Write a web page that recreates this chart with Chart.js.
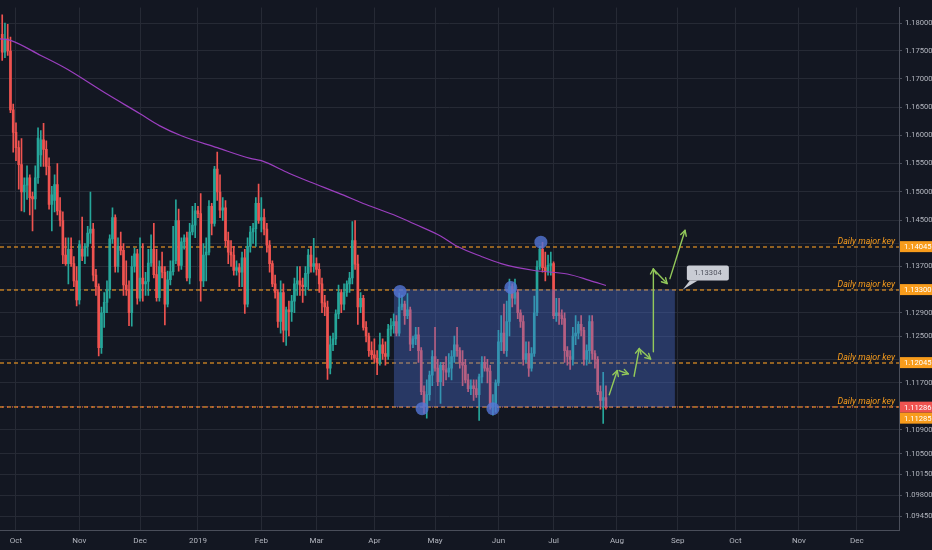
<!DOCTYPE html>
<html><head><meta charset="utf-8">
<script src="https://cdn.jsdelivr.net/npm/chart.js@4.4.1/dist/chart.umd.min.js"></script>
<style>html,body{margin:0;padding:0;background:#131722;overflow:hidden}canvas{display:block}</style>
</head><body>
<canvas id="c" width="932" height="550"></canvas>
<script>
// EURUSD daily, first bar = 2018-09-24 (bar index -5); bar index 0 = 2018-10-01
const firstBarIndex = -5;
const opens = [
1.1780,1.1748,1.1772,1.1750,1.1645,
1.1605,1.1578,1.1548,1.1500,1.1512,1.1525,1.1492,1.1488,1.1525,1.1565,1.1592,1.1575,1.1545,1.1478,1.1485,1.1513,1.1467,1.1450,1.1390,1.1375,1.1400,1.1375,1.1345,
1.1312,1.1400,1.1388,1.1405,1.1428,1.1435,1.1355,1.1335,1.1230,1.1290,1.1308,1.1330,1.1418,1.1455,1.1370,1.1405,1.1398,1.1338,1.1330,1.1290,1.1370,1.1392,
1.1315,1.1350,1.1340,1.1344,1.1376,1.1400,1.1356,1.1316,1.1370,1.1360,1.1305,1.1347,1.1361,1.1380,1.1450,1.1372,1.1413,1.1420,1.1350,1.1430,1.1442,
1.1467,1.1462,1.1345,1.1390,1.1395,1.1475,1.1445,1.1540,1.1500,1.1468,1.1472,1.1415,1.1395,1.1390,1.1363,1.1368,1.1360,1.1385,1.1305,1.1405,1.1430,1.1436,1.1480,
1.1450,1.1455,1.1435,1.1407,1.1375,1.1340,1.1325,1.1275,1.1325,1.1260,1.1295,1.1292,1.1310,1.1340,1.1345,1.1338,1.1335,1.1358,1.1390,1.1370,
1.1375,1.1365,1.1340,1.1307,1.1300,1.1195,1.1235,1.1245,1.1288,1.1325,1.1305,1.1325,1.1340,1.1350,1.1415,1.1374,1.1300,1.1315,1.1265,1.1250,1.1225,
1.1218,1.1212,1.1205,1.1235,1.1220,1.1215,1.1262,1.1268,1.1275,1.1255,1.1300,1.1305,1.1285,1.1295,1.1236,1.1245,1.1252,1.1225,1.1155,1.1130,1.1150,1.1183,
1.1215,1.1195,1.1172,1.1200,1.1192,1.1188,1.1195,1.1215,1.1235,1.1225,1.1205,1.1200,1.1175,1.1160,1.1165,1.1160,1.1150,1.1180,1.1205,1.1195,1.1190,1.1130,1.1135,
1.1170,1.1240,1.1255,1.1225,1.1275,1.1335,1.1315,1.1325,1.1290,1.1275,1.1210,1.1220,1.1195,1.1220,1.1290,1.1370,1.1400,1.1368,1.1362,1.1372,
1.1375,1.1285,1.1290,1.1285,1.1280,1.1225,1.1215,1.1210,1.1250,1.1255,1.1270,1.1260,1.1210,1.1225,1.1275,1.1220,1.1210,1.1155,1.1140,1.1145
];
const highs = [
1.1815,1.1800,1.1798,1.1775,1.1655,
1.1622,1.1590,1.1594,1.1525,1.1546,1.1530,1.1500,1.1546,1.1613,1.1608,1.1621,1.1590,1.1560,1.1510,1.1530,1.1550,1.1490,1.1465,1.1420,1.1420,1.1420,1.1387,1.1370,
1.1415,1.1456,1.1410,1.1440,1.1500,1.1445,1.1365,1.1340,1.1300,1.1325,1.1345,1.1425,1.1472,1.1460,1.1420,1.1430,1.1410,1.1380,1.1345,1.1388,1.1402,1.1400,
1.1420,1.1410,1.1360,1.1400,1.1425,1.1445,1.1400,1.1380,1.1395,1.1370,1.1362,1.1380,1.1440,1.1486,1.1470,1.1420,1.1425,1.1430,1.1445,1.1475,1.1480,
1.1475,1.1497,1.1410,1.1420,1.1485,1.1480,1.1545,1.1570,1.1530,1.1490,1.1485,1.1430,1.1415,1.1405,1.1380,1.1375,1.1395,1.1400,1.1420,1.1440,1.1445,1.1490,1.1514,
1.1490,1.1470,1.1445,1.1415,1.1380,1.1355,1.1330,1.1345,1.1340,1.1300,1.1310,1.1320,1.1350,1.1370,1.1370,1.1350,1.1370,1.1400,1.1405,1.1419,
1.1385,1.1375,1.1350,1.1320,1.1310,1.1250,1.1255,1.1295,1.1338,1.1330,1.1340,1.1345,1.1360,1.1448,1.1450,1.1390,1.1325,1.1320,1.1275,1.1255,1.1240,
1.1245,1.1225,1.1255,1.1245,1.1240,1.1270,1.1280,1.1288,1.1285,1.1324,1.1320,1.1310,1.1323,1.1300,1.1250,1.1265,1.1265,1.1230,1.1165,1.1175,1.1190,1.1225,
1.1265,1.1210,1.1205,1.1205,1.1215,1.1220,1.1225,1.1250,1.1265,1.1230,1.1225,1.1210,1.1185,1.1175,1.1175,1.1175,1.1185,1.1215,1.1215,1.1210,1.1200,1.1150,1.1175,
1.1260,1.1285,1.1305,1.1310,1.1348,1.1340,1.1348,1.1330,1.1295,1.1285,1.1240,1.1240,1.1230,1.1319,1.1380,1.1405,1.1412,1.1395,1.1390,1.1395,
1.1378,1.1315,1.1315,1.1295,1.1290,1.1232,1.1225,1.1265,1.1285,1.1275,1.1285,1.1265,1.1235,1.1285,1.1285,1.1225,1.1215,1.1165,1.1188,1.1165
];
const lows = [
1.1733,1.1738,1.1742,1.1640,1.1570,
1.1555,1.1505,1.1467,1.1465,1.1487,1.1460,1.1432,1.1470,1.1515,1.1545,1.1545,1.1530,1.1470,1.1432,1.1465,1.1460,1.1440,1.1375,1.1372,1.1340,1.1370,1.1335,1.1302,
1.1305,1.1380,1.1375,1.1388,1.1410,1.1345,1.1320,1.1216,1.1220,1.1265,1.1290,1.1315,1.1410,1.1360,1.1360,1.1390,1.1320,1.1320,1.1268,1.1267,1.1360,1.1305,
1.1310,1.1310,1.1320,1.1320,1.1370,1.1350,1.1310,1.1310,1.1350,1.1269,1.1300,1.1338,1.1355,1.1375,1.1362,1.1365,1.1400,1.1345,1.1340,1.1425,1.1420,
1.1455,1.1310,1.1335,1.1345,1.1390,1.1425,1.1440,1.1485,1.1455,1.1450,1.1405,1.1375,1.1370,1.1355,1.1355,1.1335,1.1335,1.1289,1.1300,1.1395,1.1410,1.1405,1.1445,
1.1430,1.1425,1.1395,1.1360,1.1335,1.1315,1.1265,1.1255,1.1240,1.1234,1.1250,1.1275,1.1290,1.1320,1.1320,1.1308,1.1320,1.1330,1.1360,1.1360,
1.1355,1.1325,1.1290,1.1285,1.1176,1.1185,1.1225,1.1235,1.1280,1.1290,1.1295,1.1318,1.1325,1.1340,1.1365,1.1270,1.1290,1.1260,1.1240,1.1215,1.1210,
1.1205,1.1184,1.1200,1.1210,1.1200,1.1210,1.1250,1.1255,1.1250,1.1250,1.1295,1.1270,1.1280,1.1225,1.1230,1.1235,1.1205,1.1150,1.1118,1.1110,1.1140,1.1165,
1.1190,1.1165,1.1135,1.1165,1.1175,1.1180,1.1175,1.1205,1.1215,1.1195,1.1165,1.1170,1.1155,1.1150,1.1140,1.1145,1.1106,1.1170,1.1190,1.1170,1.1125,1.1115,1.1120,
1.1165,1.1225,1.1220,1.1215,1.1250,1.1300,1.1305,1.1280,1.1265,1.1200,1.1205,1.1181,1.1190,1.1215,1.1285,1.1365,1.1360,1.1345,1.1355,1.1355,
1.1280,1.1275,1.1270,1.1270,1.1205,1.1200,1.1193,1.1200,1.1235,1.1245,1.1250,1.1200,1.1200,1.1205,1.1210,1.1195,1.1150,1.1125,1.1101,1.1125
];
const closes = [
1.1748,1.1772,1.1750,1.1645,1.1605,
1.1578,1.1548,1.1500,1.1512,1.1525,1.1490,1.1488,1.1525,1.1595,1.1592,1.1575,1.1545,1.1478,1.1495,1.1513,1.1467,1.1450,1.1390,1.1375,1.1400,1.1375,1.1345,1.1312,
1.1408,1.1388,1.1405,1.1428,1.1435,1.1355,1.1335,1.1230,1.1290,1.1308,1.1330,1.1418,1.1455,1.1370,1.1405,1.1398,1.1338,1.1330,1.1290,1.1370,1.1392,1.1315,
1.1350,1.1340,1.1344,1.1376,1.1400,1.1356,1.1316,1.1370,1.1360,1.1305,1.1347,1.1361,1.1380,1.1450,1.1372,1.1413,1.1420,1.1350,1.1430,1.1442,1.1467,
1.1462,1.1345,1.1390,1.1395,1.1475,1.1445,1.1540,1.1500,1.1468,1.1472,1.1415,1.1395,1.1390,1.1363,1.1368,1.1360,1.1385,1.1305,1.1405,1.1430,1.1436,1.1480,1.1450,
1.1455,1.1435,1.1407,1.1375,1.1340,1.1325,1.1275,1.1325,1.1260,1.1295,1.1292,1.1310,1.1340,1.1345,1.1338,1.1335,1.1358,1.1390,1.1370,1.1375,
1.1365,1.1340,1.1307,1.1300,1.1195,1.1235,1.1245,1.1288,1.1325,1.1305,1.1325,1.1340,1.1350,1.1415,1.1374,1.1300,1.1315,1.1265,1.1250,1.1225,1.1218,
1.1212,1.1205,1.1235,1.1220,1.1215,1.1262,1.1268,1.1275,1.1255,1.1300,1.1305,1.1285,1.1295,1.1236,1.1245,1.1252,1.1225,1.1155,1.1130,1.1150,1.1183,1.1215,
1.1195,1.1172,1.1200,1.1192,1.1188,1.1195,1.1215,1.1235,1.1225,1.1205,1.1200,1.1175,1.1160,1.1165,1.1160,1.1150,1.1180,1.1205,1.1195,1.1190,1.1130,1.1135,1.1170,
1.1240,1.1255,1.1225,1.1275,1.1335,1.1315,1.1325,1.1290,1.1275,1.1210,1.1220,1.1195,1.1220,1.1290,1.1370,1.1400,1.1368,1.1362,1.1372,1.1375,
1.1285,1.1290,1.1285,1.1280,1.1225,1.1215,1.1210,1.1250,1.1255,1.1270,1.1260,1.1210,1.1225,1.1275,1.1220,1.1210,1.1155,1.1140,1.1145,1.11286
];
// moving average (purple line) read at bar indices
const maIdx = [-6,-2,9,18,33,45,52,60,73,85,89,99,107,117,127,137,145,154,160,169,176,188,200,208,214];
const maVal = [1.1772,1.1769,1.1742,1.1719,1.1673,1.1638,1.1617,1.1599,1.1578,1.1559,1.1555,1.1533,1.1517,1.1498,1.1478,1.1460,1.1443,1.1423,1.1405,1.1387,1.1375,1.1363,1.1357,1.1346,1.1337];
// axes
const monthTickIdx = [0,23,45,66,89,109,130,152,175,195,218,240,261,284,305];
const monthTickLabels = ['Oct','Nov','Dec','2019','Feb','Mar','Apr','May','Jun','Jul','Aug','Sep','Oct','Nov','Dec'];
const priceTicks = [1.18,1.175,1.17,1.165,1.16,1.155,1.15,1.145,1.141,1.137,1.133,1.129,1.125,1.121,1.117,1.113,1.109,1.105,1.1015,1.098,1.0945];
const hiddenTickLabels = [1.141,1.133,1.121,1.113];
// drawings
const keyLevels = [1.14045,1.13300,1.12045,1.11285];
const keyLevelText = 'Daily major key';
const lastPrice = 1.11286;
const boxIdx = [137.1,239.0];
const boxVal = [1.1330,1.11286];
const pivotIdx = [139.3,147.3,173.0,179.5,190.4];
const pivotVal = [1.13268,1.11260,1.11260,1.13336,1.14123];
const arrowFromIdx = [215.2,218.8,224.2,226.3,231.2,231.4,237.2];
const arrowFromVal = [1.11498,1.11909,1.11812,1.12275,1.12229,1.13644,1.13489];
const arrowToIdx   = [218.1,222.1,226.1,230.2,231.2,236.2,242.7];
const arrowToVal   = [1.11909,1.11852,1.12287,1.12106,1.13661,1.13404,1.14329];
const calloutIdx = 241.9, calloutVal = 1.1330, calloutText = '1.13304';

const BG = '#131722', UP = '#26a69a', DOWN = '#ef5350', ORANGE = '#f89c1c', TXT = '#b2b5be', GRID = '#262a35', AXIS = '#4a4e5a';
const FONT = 'Roboto, "Liberation Sans", sans-serif';
Chart.defaults.font.family = FONT;

const xs = opens.map((_, i) => i + firstBarIndex);
const candleColors = opens.map((o, i) => closes[i] >= o ? UP : DOWN);
const wickData = xs.map((x, i) => ({x, y: [lows[i], highs[i]]}));
const bodyData = xs.map((x, i) => ({x, y: [Math.min(opens[i], closes[i]), Math.max(opens[i], closes[i])]}));

const overlay = {
  id: 'overlay',
  beforeDraw(chart) {
    const c = chart.ctx; c.save(); c.fillStyle = BG; c.fillRect(0, 0, chart.width, chart.height); c.restore();
  },
  beforeDatasetsDraw(chart) {
    const {ctx, chartArea: a, scales: {y}} = chart;
    ctx.save();
    ctx.beginPath(); ctx.rect(a.left, a.top, a.right - a.left, a.bottom - a.top); ctx.clip();
    ctx.lineWidth = 1.5;
    keyLevels.forEach(v => {
      const py = Math.round(y.getPixelForValue(v));
      ctx.strokeStyle = 'rgba(236,150,34,0.78)'; ctx.setLineDash([4, 3]);
      ctx.beginPath(); ctx.moveTo(a.left, py); ctx.lineTo(a.right, py); ctx.stroke();
    });
    const pl = Math.round(y.getPixelForValue(lastPrice));
    ctx.strokeStyle = 'rgba(239,83,80,0.8)'; ctx.lineWidth = 1.5; ctx.setLineDash([1, 4]);
    ctx.beginPath(); ctx.moveTo(a.left + 2, pl); ctx.lineTo(a.right, pl); ctx.stroke();
    ctx.restore();
  },
  afterDatasetDraw(chart, args) {
    if (args.index !== 2) return;
    const {ctx, scales: {x, y}} = chart;
    const x1 = x.getPixelForValue(boxIdx[0]), x2 = x.getPixelForValue(boxIdx[1]);
    const y1 = y.getPixelForValue(boxVal[0]), y2 = y.getPixelForValue(boxVal[1]);
    ctx.save();
    ctx.fillStyle = 'rgba(78,116,218,0.36)';
    ctx.fillRect(x1, y1, x2 - x1, y2 - y1);
    ctx.restore();
  },
  afterDraw(chart) {
    const {ctx, chartArea: a, scales: {x, y}} = chart;
    ctx.save();
    // arrows
    ctx.strokeStyle = '#93c95a'; ctx.lineWidth = 1.4; ctx.lineCap = 'round'; ctx.lineJoin = 'round';
    arrowFromIdx.forEach((_, i) => {
      const x1 = x.getPixelForValue(arrowFromIdx[i]), y1 = y.getPixelForValue(arrowFromVal[i]);
      const x2 = x.getPixelForValue(arrowToIdx[i]), y2 = y.getPixelForValue(arrowToVal[i]);
      ctx.beginPath(); ctx.moveTo(x1, y1); ctx.lineTo(x2, y2); ctx.stroke();
      const ang = Math.atan2(y2 - y1, x2 - x1), L = 6, s = 0.5;
      ctx.beginPath();
      ctx.moveTo(x2 - L * Math.cos(ang - s), y2 - L * Math.sin(ang - s));
      ctx.lineTo(x2, y2);
      ctx.lineTo(x2 - L * Math.cos(ang + s), y2 - L * Math.sin(ang + s));
      ctx.stroke();
    });
    // callout
    const cx = x.getPixelForValue(calloutIdx), cy = y.getPixelForValue(calloutVal);
    ctx.fillStyle = '#c9ccd4';
    ctx.beginPath(); ctx.moveTo(cx, cy); ctx.lineTo(cx + 7, cy - 9); ctx.lineTo(cx + 15, cy - 9); ctx.closePath(); ctx.fill();
    ctx.beginPath(); ctx.roundRect(cx + 4, cy - 24, 42, 15, 2); ctx.fill();
    ctx.fillStyle = '#50535e'; ctx.font = '7.6px ' + FONT; ctx.textAlign = 'center'; ctx.textBaseline = 'middle';
    ctx.fillText(calloutText, cx + 25, cy - 16);
    // key level texts
    ctx.font = 'italic 8.8px ' + FONT; ctx.fillStyle = ORANGE; ctx.textAlign = 'right'; ctx.textBaseline = 'alphabetic';
    keyLevels.forEach(v => { const py = y.getPixelForValue(v); ctx.fillText(keyLevelText, a.right - 4, py - 3); });
    // axis price tags
    ctx.font = '7.6px ' + FONT; ctx.textAlign = 'left'; ctx.textBaseline = 'middle';
    const tag = (v, py, col) => {
      ctx.fillStyle = col; ctx.fillRect(a.right + 1, py - 5.5, chart.width - a.right - 1, 11);
      ctx.fillStyle = '#ffffff'; ctx.fillText(v.toFixed(5), a.right + 5, py + 0.5);
    };
    const ly = y.getPixelForValue(lastPrice);
    tag(lastPrice, ly, DOWN);
    keyLevels.forEach(v => {
      let py = y.getPixelForValue(v);
      if (Math.abs(py - ly) < 11) py = ly + 11;
      tag(v, py, ORANGE);
    });
    ctx.restore();
  }
};

new Chart(document.getElementById('c'), {
  type: 'bar',
  data: {
    datasets: [
      {label: 'wick', data: wickData, backgroundColor: candleColors, barThickness: 1, grouped: false, order: 3},
      {label: 'body', data: bodyData, backgroundColor: candleColors, barThickness: 2, minBarLength: 1, grouped: false, order: 2},
      {type: 'line', label: 'MA', data: maIdx.map((v, i) => ({x: v, y: maVal[i]})), borderColor: '#9b3fbf', borderWidth: 1.2, pointRadius: 0, cubicInterpolationMode: 'monotone', order: 1},
      {type: 'scatter', label: 'pivots', data: pivotIdx.map((v, i) => ({x: v, y: pivotVal[i]})), pointRadius: 6.5, backgroundColor: 'rgba(84,118,214,0.8)', borderWidth: 0, order: 0}
    ]
  },
  options: {
    responsive: false, animation: false, maintainAspectRatio: false,
    layout: {padding: 0, autoPadding: false},
    plugins: {legend: {display: false}, tooltip: {enabled: false}},
    scales: {
      x: {
        type: 'linear', min: -5.80, max: 320.3, offset: false,
        afterFit: s => { s.height = 20; },
        afterBuildTicks: s => { s.ticks = monthTickIdx.map(v => ({value: v})); },
        ticks: {color: TXT, font: {size: 8}, padding: 6, autoSkip: false, maxRotation: 0,
          callback: (v, i) => monthTickLabels[i]},
        grid: {color: GRID, drawTicks: false, offset: false},
        border: {display: true, color: AXIS}
      },
      y: {
        type: 'logarithmic', position: 'right', min: 1.09220, max: 1.18281,
        afterFit: s => { s.width = 33; },
        afterBuildTicks: s => { s.ticks = priceTicks.map(v => ({value: v})); },
        ticks: {color: TXT, font: {size: 7.6}, padding: 3, autoSkip: false,
          callback: v => hiddenTickLabels.includes(v) ? '' : Number(v).toFixed(5)},
        grid: {color: GRID, tickLength: 3, tickColor: AXIS},
        border: {display: true, color: AXIS}
      }
    }
  },
  plugins: [overlay]
});
</script>
</body></html>
